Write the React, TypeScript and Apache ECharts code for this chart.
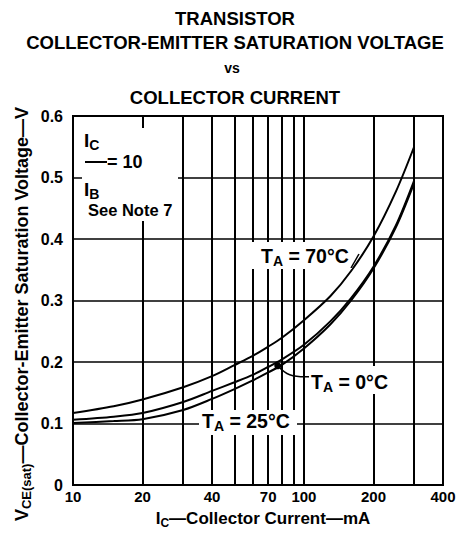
import React, { useEffect, useRef } from 'react';
import * as echarts from 'echarts';

// Collector current (mA) sample points
const currentsMA = [10, 15, 20, 30, 40, 50, 60, 70, 80, 100, 130, 160, 200, 250, 300];
// VCE(sat) in volts for each ambient temperature
const vce70C = [0.117, 0.128, 0.139, 0.159, 0.177, 0.195, 0.21, 0.225, 0.239, 0.268, 0.307, 0.348, 0.404, 0.477, 0.55];
const vce0C = [0.106, 0.111, 0.117, 0.135, 0.153, 0.167, 0.179, 0.192, 0.204, 0.228, 0.266, 0.304, 0.355, 0.422, 0.495];
const vce25C = [0.101, 0.104, 0.107, 0.122, 0.14, 0.156, 0.17, 0.183, 0.195, 0.222, 0.261, 0.3, 0.352, 0.419, 0.491];

// Vertical grid lines and labelled x ticks (mA)
const xGridCurrents = [20, 30, 40, 50, 60, 70, 80, 90, 100, 200, 300];
const xTickLabels = [10, 20, 40, 70, 100, 200, 400];
// Y axis range / step (V)
const yMin = 0;
const yMax = 0.6;
const yStep = 0.1;
// Point where the 0 °C leader touches the curves
const dotPoint = [77, 0.194];

const titleLines = ['TRANSISTOR', 'COLLECTOR-EMITTER SATURATION VOLTAGE', 'vs', 'COLLECTOR CURRENT'];

const FONT = '"Liberation Sans", Arial, Helvetica, sans-serif';

function rich(main: number, sub: number) {
  return {
    m: { fontSize: main, fontWeight: 'bold', fontFamily: FONT, fill: '#000', lineHeight: main + 4 },
    s: { fontSize: sub, fontWeight: 'bold', fontFamily: FONT, fill: '#000', lineHeight: sub + 1, verticalAlign: 'bottom' },
  };
}

function plainText(x: number, y: number, text: string, size: number, align = 'center', extra: any = {}) {
  return {
    type: 'text',
    x,
    y,
    z: 11,
    silent: true,
    style: {
      text,
      fontSize: size,
      fontWeight: 'bold',
      fontFamily: FONT,
      fill: '#000',
      align,
      verticalAlign: 'middle',
      ...extra,
    },
  };
}

function richText(x: number, y: number, text: string, main: number, sub: number, align = 'left', extra: any = {}) {
  return {
    type: 'text',
    x,
    y,
    z: 11,
    silent: true,
    ...extra,
    style: {
      text,
      rich: rich(main, sub),
      fontSize: main,
      fontWeight: 'bold',
      fontFamily: FONT,
      fill: '#000',
      align,
      verticalAlign: 'middle',
    },
  };
}

function whiteRect(x: number, y: number, w: number, h: number) {
  return { type: 'rect', z: 10, silent: true, shape: { x, y, width: w, height: h }, style: { fill: '#fff' } };
}

export default function App() {
  const ref = useRef<HTMLDivElement>(null);

  useEffect(() => {
    document.body.style.margin = '0';
    const chart = echarts.init(ref.current!, null, { renderer: 'svg' });

    const curve = (name: string, values: number[], extra: any = {}) => ({
      name,
      type: 'line',
      data: currentsMA.map((c, i) => [c, values[i]]),
      smooth: 0.3,
      showSymbol: false,
      symbol: 'none',
      silent: true,
      z: 3,
      lineStyle: { color: '#000', width: 2 },
      itemStyle: { color: '#000' },
      ...extra,
    });

    const option: any = {
      animation: false,
      backgroundColor: '#fff',
      grid: {
        left: 73,
        right: 17,
        top: 116,
        bottom: 57,
        show: true,
        borderColor: '#000',
        borderWidth: 2,
        containLabel: false,
      },
      xAxis: {
        type: 'log',
        logBase: 10,
        min: 10,
        max: 400,
        axisLine: { show: true, lineStyle: { color: '#000', width: 2 } },
        axisTick: { show: false },
        axisLabel: { show: false },
        splitLine: { show: false },
        minorTick: { show: false },
        minorSplitLine: { show: false },
      },
      yAxis: {
        type: 'value',
        min: yMin,
        max: yMax,
        interval: yStep,
        axisLine: { show: true, lineStyle: { color: '#000', width: 2 } },
        axisTick: { show: false },
        axisLabel: {
          color: '#000',
          fontSize: 16,
          fontWeight: 'bold',
          fontFamily: FONT,
          margin: 10,
          formatter: (v: number) => (v === 0 ? '0' : v.toFixed(1)),
        },
        splitLine: { show: true, lineStyle: { color: '#000', width: 1.6 } },
      },
      series: [
        curve('TA = 70°C', vce70C, {
          markLine: {
            silent: true,
            symbol: ['none', 'none'],
            label: { show: false },
            lineStyle: { color: '#000', width: 2, type: 'solid' },
            emphasis: { disabled: true },
            data: xGridCurrents.map((v) => ({ xAxis: v })),
          },
        }),
        curve('TA = 0°C', vce0C, {
          markLine: {
            silent: true,
            symbol: ['none', 'none'],
            lineStyle: { color: 'rgba(0,0,0,0)', width: 0 },
            label: {
              show: true,
              position: 'start',
              distance: 4,
              color: '#000',
              fontSize: 15,
              fontWeight: 'bold',
              fontFamily: FONT,
              formatter: (p: any) => String(p.value),
            },
            emphasis: { disabled: true },
            data: xTickLabels.map((v) => ({ xAxis: v })),
          },
        }),
        curve('TA = 25°C', vce25C),
      ],
    };

    chart.setOption(option);
    const dot = chart.convertToPixel({ gridIndex: 0 }, dotPoint) as number[];

    const graphic: any[] = [
      plainText(235, 18, titleLines[0], 18.5),
      plainText(235, 42, titleLines[1], 18.5),
      plainText(232, 68, titleLines[2], 14),
      plainText(235, 97, titleLines[3], 18.5),
      // axis names
      richText(263, 518, '{m|I}{s|C}{m|—Collector Current—mA}', 17, 12, 'center'),
      richText(22, 314, '{m|V}{s|CE(sat)}{m|—Collector-Emitter Saturation Voltage—V}', 18, 13, 'center', {
        rotation: Math.PI / 2,
      }),
      // IC / IB box
      whiteRect(82, 128, 96, 93),
      richText(84, 140, '{m|I}{s|C}', 19, 14),
      { type: 'line', z: 11, silent: true, shape: { x1: 85, y1: 162, x2: 107, y2: 162 }, style: { stroke: '#000', lineWidth: 2 } },
      plainText(107, 162, '= 10', 18, 'left'),
      richText(84, 189, '{m|I}{s|B}', 19, 14),
      plainText(88, 210, 'See Note 7', 16.5, 'left'),
      // temperature labels
      whiteRect(246, 242, 106, 27),
      richText(261, 256, '{m|T}{s|A}{m| = 70°C}', 19.5, 14),
      { type: 'line', z: 11, silent: true, shape: { x1: 351, y1: 268, x2: 359, y2: 254 }, style: { stroke: '#000', lineWidth: 1.5 } },
      whiteRect(305, 366, 92, 28),
      richText(311, 382, '{m|T}{s|A}{m| = 0°C}', 19.5, 14),
      whiteRect(199, 410, 98, 25),
      richText(202, 421, '{m|T}{s|A}{m| = 25°C}', 19.5, 14),
      {
        type: 'polyline',
        z: 11,
        silent: true,
        shape: { points: [[dot[0], dot[1]], [dot[0] + 12, dot[1] + 9], [309, dot[1] + 11]], smooth: 0.4 },
        style: { stroke: '#000', lineWidth: 1.5, fill: 'none' },
      },
      { type: 'circle', z: 11, silent: true, shape: { cx: dot[0], cy: dot[1], r: 3.5 }, style: { fill: '#000' } },
    ];
    chart.setOption({ graphic });

    return () => chart.dispose();
  }, []);

  return <div ref={ref} style={{ width: 460, height: 542 }} />;
}
